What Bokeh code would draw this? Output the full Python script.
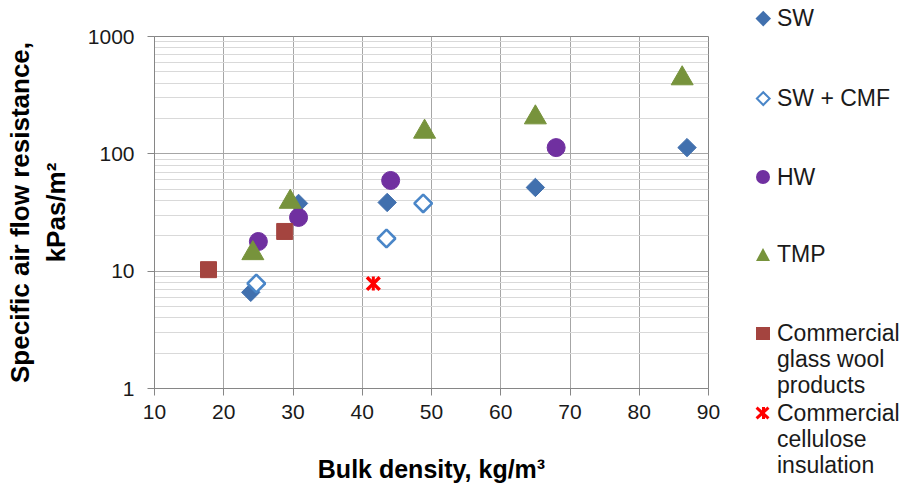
import numpy as np
from bokeh.plotting import figure
from bokeh.layouts import row
from bokeh.models import FixedTicker, Range1d, ColumnDataSource, Div
from bokeh.embed import file_html
from bokeh.resources import INLINE

# ---- data ----
sw_x = [23.9, 30.8, 43.6, 65.0, 86.9]
sw_y = [6.6, 37.8, 38.5, 51.7, 113.0]
cmf_x = [24.7, 43.5, 48.8]
cmf_y = [7.85, 19.0, 37.8]
hw_x = [25.0, 30.8, 44.1, 68.0]
hw_y = [17.9, 28.7, 59.3, 113.0]
tmp_x = [24.2, 29.6, 49.0, 65.0, 86.2]
tmp_y = [14.2, 38.9, 154.0, 204.0, 439.0]
gw_x = [17.8, 28.8]
gw_y = [10.3, 21.8]
cel_x = [41.6]
cel_y = [7.85]

# legend label lines per series (the long names wrap over three lines)
series_lines = [["SW"], ["SW + CMF"], ["HW"], ["TMP"],
                ["Commercial", "glass wool", "products"],
                ["Commercial", "cellulose", "insulation"]]

x_ticks = [10, 20, 30, 40, 50, 60, 70, 80, 90]
y_ticks = [1, 10, 100, 1000]
y_tick_labels = ["1", "10", "100", "1000"]

FONT = "Liberation Sans"
GRID_MAJOR = "#a6a6a6"
GRID_MINOR = "#d9d9d9"
AXIS_GREY = "#868686"
C_SW, C_CMF, C_HW, C_TMP, C_GW, C_CEL = "#4170ae", "#4a86c8", "#7030a0", "#77933c", "#a4443f", "#ff0000"

STYLES = [
    dict(marker="square", size=13, angle=np.pi / 4, fill_color=C_SW, line_color=C_SW),
    dict(marker="square", size=12.5, angle=np.pi / 4, fill_color="white", line_color=C_CMF, line_width=2.6),
    dict(marker="circle", size=18, fill_color=C_HW, line_color=C_HW),
    dict(marker="triangle", size=22, fill_color=C_TMP, line_color=C_TMP),
    dict(marker="square", size=16, fill_color=C_GW, line_color=C_GW),
]
CEL_X = dict(marker="x", size=18, line_color=C_CEL, line_width=3.5)
CEL_BAR = dict(marker="dash", size=14, angle=np.pi / 2, line_color=C_CEL, line_width=3)

p = figure(width=740, height=492, y_axis_type="log",
           x_range=Range1d(10, 90), y_range=Range1d(1, 1000),
           output_backend="svg", toolbar_location=None,
           min_border_left=154, min_border_right=32,
           min_border_top=36, min_border_bottom=104)
p.background_fill_color = "white"
p.border_fill_color = "white"
p.outline_line_color = AXIS_GREY
p.outline_line_width = 1

minor = [m * d for d in [1, 10, 100] for m in range(2, 10)]
p.xaxis.ticker = FixedTicker(ticks=x_ticks)
p.yaxis.ticker = FixedTicker(ticks=y_ticks, minor_ticks=minor)
p.yaxis.major_label_overrides = {t: l for t, l in zip(y_ticks, y_tick_labels)}
p.xaxis.major_label_overrides = {t: str(t) for t in x_ticks}

for ax in (p.xaxis[0], p.yaxis[0]):
    ax.axis_line_color = AXIS_GREY
    ax.major_tick_line_color = AXIS_GREY
    ax.minor_tick_line_color = None
    ax.major_tick_in = 0
    ax.major_tick_out = 7
    ax.major_label_text_font = FONT
    ax.major_label_text_font_size = "21px"
    ax.major_label_text_color = "#1a1a1a"
    ax.axis_label_text_font = FONT
    ax.axis_label_text_font_size = "25px"
    ax.axis_label_text_font_style = "bold"
    ax.axis_label_text_color = "#000000"

p.xaxis.major_label_standoff = 9
p.xaxis.axis_label = "Bulk density, kg/m³"
p.xaxis.axis_label_standoff = 33
p.yaxis.major_label_standoff = 13
p.yaxis.axis_label = "Specific air flow resistance,\nkPas/m²"
p.yaxis.axis_label_text_font_size = "26px"
p.yaxis.axis_label_standoff = 14

p.xgrid.grid_line_color = GRID_MAJOR
p.ygrid.grid_line_color = GRID_MAJOR
p.ygrid.minor_grid_line_color = GRID_MINOR
p.xgrid.ticker = FixedTicker(ticks=x_ticks)
p.ygrid.ticker = FixedTicker(ticks=y_ticks, minor_ticks=minor)

data_x = [sw_x, cmf_x, hw_x, tmp_x, gw_x]
data_y = [sw_y, cmf_y, hw_y, tmp_y, gw_y]
for xs, ys, st in zip(data_x, data_y, STYLES):
    p.scatter(xs, ys, **st)
cel_src = ColumnDataSource(dict(x=cel_x, y=cel_y))
p.scatter("x", "y", source=cel_src, **CEL_X)
p.scatter("x", "y", source=cel_src, **CEL_BAR)

# ---- legend panel (HTML, right of the chart) ----
line_h = 26
first_line_y = [18, 98, 177, 254, 333, 413]   # centre of each entry's first line
mx = 23                                        # marker centre x inside the panel
tx = 37                                        # text left inside the panel

def box(cx, cy, w, h, extra):
    return (f'<div style="position:absolute;left:{cx - w / 2}px;top:{cy - h / 2}px;'
            f'width:{w}px;height:{h}px;box-sizing:border-box;{extra}"></div>')

def marker_html(i, cy):
    if i == 0:
        return box(mx, cy, 10.5, 10.5, f"background:{C_SW};transform:rotate(45deg);")
    if i == 1:
        return box(mx, cy, 10.5, 10.5, f"background:#fff;border:2px solid {C_CMF};transform:rotate(45deg);")
    if i == 2:
        return box(mx, cy, 14, 14, f"background:{C_HW};border-radius:50%;")
    if i == 3:
        return (f'<div style="position:absolute;left:{mx - 7.5}px;top:{cy - 6.5}px;width:0;height:0;'
                f'border-left:7.5px solid transparent;border-right:7.5px solid transparent;'
                f'border-bottom:13px solid {C_TMP};"></div>')
    if i == 4:
        return box(mx, cy, 14, 13, f"background:{C_GW};")
    bars = [box(mx, cy, 3.2, 16, f"background:{C_CEL};transform:rotate({a}deg);") for a in (48, -48)]
    bars.append(box(mx, cy, 3.0, 12, f"background:{C_CEL};"))
    return "".join(bars)

parts = []
for i, (lines, cy) in enumerate(zip(series_lines, first_line_y)):
    parts.append(marker_html(i, cy))
    parts.append(f'<div style="position:absolute;left:{tx}px;top:{cy - line_h / 2}px;'
                 f'line-height:{line_h}px;white-space:nowrap;">' + "<br>".join(lines) + "</div>")

html = ('<div style="position:relative;width:169px;height:492px;background:#fff;'
        f"font-family:'{FONT}',Arial,sans-serif;font-size:23px;color:#1a1a1a;\">"
        + "".join(parts) + "</div>")
legend_div = Div(text=html, width=169, height=492, margin=0)

layout = row(p, legend_div, spacing=0)
open("out.html", "w").write(file_html(layout, INLINE))
